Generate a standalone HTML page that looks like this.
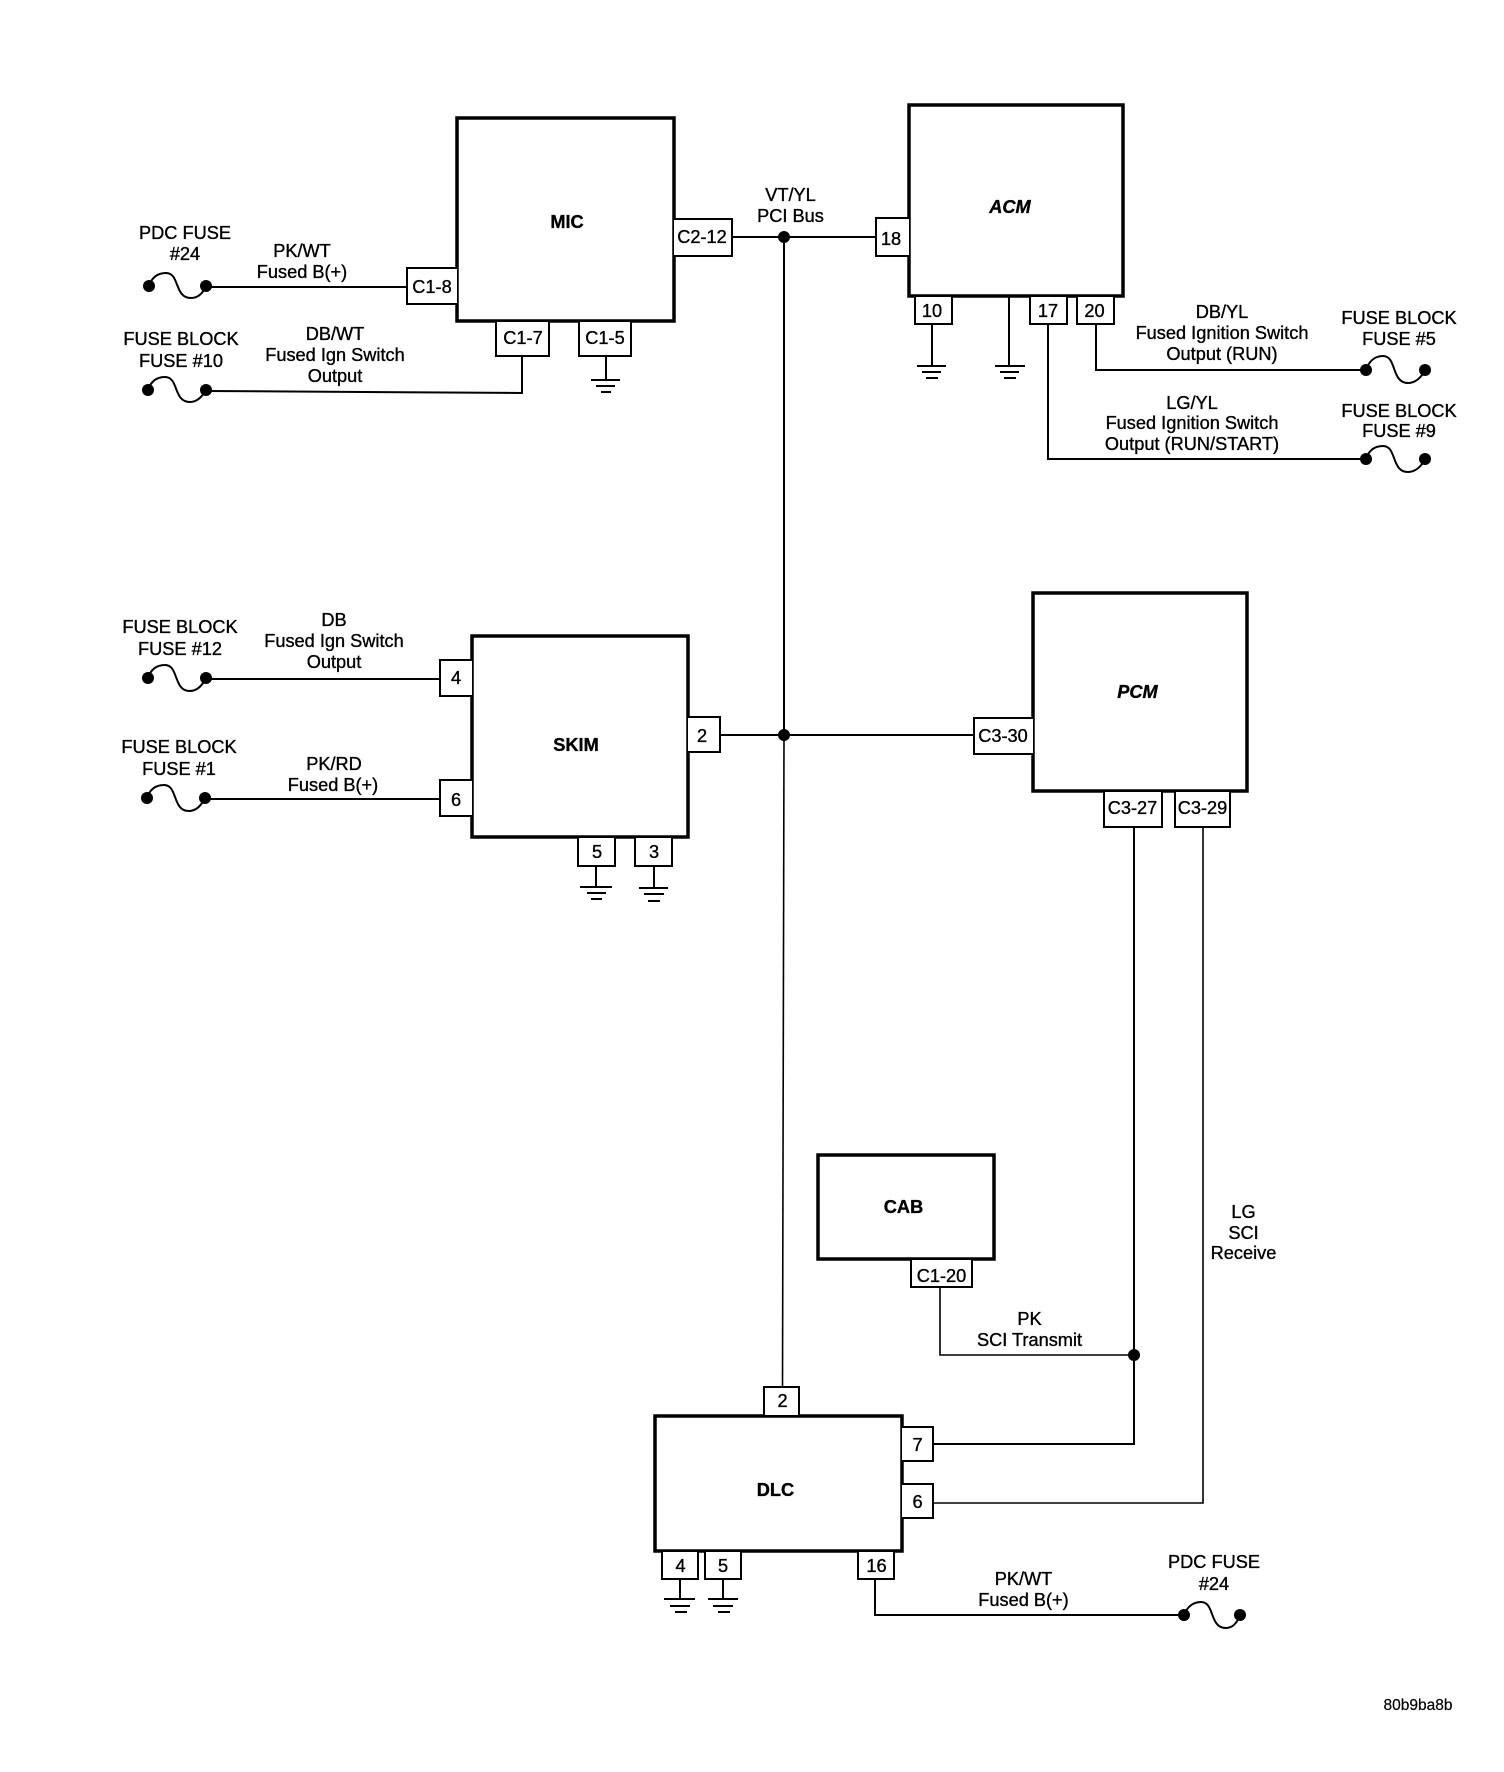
<!DOCTYPE html>
<html><head><meta charset="utf-8"><style>
html,body{margin:0;padding:0;background:#fff;width:1504px;height:1772px;overflow:hidden}
svg{display:block}
text{font-family:"Liberation Sans",sans-serif;font-size:18.2px;fill:#000;text-anchor:middle;stroke:#000;stroke-width:.35}
.b{font-weight:bold}
.i{font-weight:bold;font-style:italic}
.box{fill:#fff;stroke:#000;stroke-width:3.5}
.pin{fill:#fff;stroke:#000;stroke-width:2}
.w{fill:none;stroke:#000;stroke-width:2}
.t{fill:none;stroke:#000;stroke-width:1.6}
.f{fill:none;stroke:#000;stroke-width:2}
.d{fill:#000}
</style></head><body>
<svg width="1504" height="1772" viewBox="0 0 1504 1772" xmlns="http://www.w3.org/2000/svg">
<rect width="1504" height="1772" fill="#fff"/>

<!-- wires -->
<path class="w" d="M732 237H876"/>
<path class="w" d="M784 237V735"/>
<path class="t" d="M784 735L782.5 1387"/>
<path class="w" d="M720 735H974"/>
<path class="w" d="M206 287H407"/>
<path class="w" d="M206 391L522 393V356"/>
<path class="w" d="M206 679H440"/>
<path class="w" d="M205 799H440"/>
<path class="w" d="M1096 324V370H1366"/>
<path class="w" d="M1048 324V459H1366"/>
<path class="w" d="M1134 827V1444H933"/>
<path class="t" d="M1203 827V1503H933"/>
<path class="t" d="M940 1287V1355H1134"/>
<path class="w" d="M875 1579V1615H1184"/>

<!-- grounds -->
<path class="w" d="M606 356V380M591 380H620M596 386H615M601 392H611"/>
<path class="w" d="M932 324V366M917 366H946M922 372H941M926 378H938"/>
<path class="w" d="M1009 296V366M995 366H1025M1000 372H1019M1004 378H1016"/>
<path class="w" d="M596 866V887M580 887H612M587 893H606M591 899H602"/>
<path class="w" d="M654 866V888M639 888H668M644 894H664M648 901H660"/>
<path class="w" d="M680 1579V1599M664 1599H695M670 1606H690M675 1612H687"/>
<path class="w" d="M723 1579V1599M708 1599H738M713 1606H733M718 1612H730"/>

<!-- boxes -->
<rect class="box" x="457" y="118" width="217" height="203"/>
<rect class="box" x="909" y="105" width="214" height="191"/>
<rect class="box" x="472" y="636" width="216" height="201"/>
<rect class="box" x="1033" y="593" width="214" height="198"/>
<rect class="box" x="818" y="1155" width="176" height="104"/>
<rect class="box" x="655" y="1416" width="247" height="135"/>

<!-- pins -->
<path class="pin" d="M674 219H732V256H674"/>
<path class="pin" d="M457 268H407V304H457"/>
<path class="pin" d="M496 322V356H549V322"/>
<path class="pin" d="M579 322V356H631V322"/>
<path class="pin" d="M909 218H876V256H909"/>
<path class="pin" d="M915 297V324H952V297"/>
<path class="pin" d="M1030 297V324H1067V297"/>
<path class="pin" d="M1077 297V324H1114V297"/>
<path class="pin" d="M472 660H440V696H472"/>
<path class="pin" d="M472 780H440V816H472"/>
<path class="pin" d="M688 717H720V752H688"/>
<path class="pin" d="M578 838V866H615V838"/>
<path class="pin" d="M635 838V866H672V838"/>
<path class="pin" d="M1033 718H974V754H1033"/>
<path class="pin" d="M1104 792V827H1162V792"/>
<path class="pin" d="M1175 792V827H1230V792"/>
<path class="pin" d="M911 1260V1287H972V1260"/>
<path class="pin" d="M764 1415V1387H799V1415"/>
<path class="pin" d="M902 1427H933V1461H902"/>
<path class="pin" d="M902 1484H933V1518H902"/>
<path class="pin" d="M662 1552V1579H698V1552"/>
<path class="pin" d="M705 1552V1579H741V1552"/>
<path class="pin" d="M858 1552V1579H894V1552"/>

<!-- junction dots -->
<circle class="d" cx="784" cy="237" r="6"/>
<circle class="d" cx="784" cy="735" r="6"/>
<circle class="d" cx="1134" cy="1355" r="6"/>

<!-- fuses -->
<path class="f" d="M149 286C152 277 158 273 166 273C180 273 174 298 191 298C198 298 203 293 206 286"/><circle class="d" cx="149" cy="286" r="6"/><circle class="d" cx="206" cy="286" r="6"/>
<path class="f" d="M148 390C151 381 157 377 165 377C179 377 173 402 190 402C197 402 202 397 206 390"/><circle class="d" cx="148" cy="390" r="6"/><circle class="d" cx="206" cy="390" r="6"/>
<path class="f" d="M148 678C151 669 157 665 165 665C179 665 173 691 190 691C197 691 202 686 206 678"/><circle class="d" cx="148" cy="678" r="6"/><circle class="d" cx="206" cy="678" r="6"/>
<path class="f" d="M147 798C150 789 156 785 164 785C178 785 172 811 189 811C196 811 201 806 205 798"/><circle class="d" cx="147" cy="798" r="6"/><circle class="d" cx="205" cy="798" r="6"/>
<path class="f" d="M1366 370C1369 361 1375 356 1383 356C1397 356 1391 383 1408 383C1415 383 1421 378 1425 370"/><circle class="d" cx="1366" cy="370" r="6"/><circle class="d" cx="1425" cy="370" r="6"/>
<path class="f" d="M1366 459C1369 450 1375 446 1383 446C1397 446 1391 472 1408 472C1415 472 1421 467 1425 459"/><circle class="d" cx="1366" cy="459" r="6"/><circle class="d" cx="1425" cy="459" r="6"/>
<path class="f" d="M1184 1615C1187 1607 1193 1602 1201 1602C1215 1602 1209 1628 1226 1628C1233 1628 1237 1623 1240 1615"/><circle class="d" cx="1184" cy="1615" r="6"/><circle class="d" cx="1240" cy="1615" r="6"/>

<!-- module labels -->
<text class="b" x="567" y="228">MIC</text>
<text class="i" x="1010" y="213">ACM</text>
<text class="b" x="576" y="751">SKIM</text>
<text class="i" x="1137.5" y="698">PCM</text>
<text class="b" x="903.5" y="1213">CAB</text>
<text class="b" x="775.5" y="1496">DLC</text>

<!-- pin labels -->
<text x="702" y="243">C2-12</text>
<text x="432" y="293">C1-8</text>
<text x="523" y="344">C1-7</text>
<text x="605" y="344">C1-5</text>
<text x="891" y="245">18</text>
<text x="932" y="317">10</text>
<text x="1048" y="317">17</text>
<text x="1094.5" y="317">20</text>
<text x="456" y="684">4</text>
<text x="456" y="806">6</text>
<text x="702" y="742">2</text>
<text x="597" y="858">5</text>
<text x="654" y="858">3</text>
<text x="1003" y="742">C3-30</text>
<text x="1132.5" y="814">C3-27</text>
<text x="1202.5" y="814">C3-29</text>
<text x="941.5" y="1282">C1-20</text>
<text x="782.5" y="1407">2</text>
<text x="917.5" y="1451">7</text>
<text x="917.5" y="1508">6</text>
<text x="680.5" y="1572">4</text>
<text x="723" y="1572">5</text>
<text x="876.5" y="1572">16</text>

<!-- wire & fuse labels -->
<text x="185" y="239">PDC FUSE</text>
<text x="185" y="260">#24</text>
<text x="302" y="257">PK/WT</text>
<text x="302" y="278">Fused B(+)</text>
<text x="181" y="345">FUSE BLOCK</text>
<text x="181" y="367">FUSE #10</text>
<text x="335" y="340">DB/WT</text>
<text x="335" y="361">Fused Ign Switch</text>
<text x="335" y="382">Output</text>
<text x="790.5" y="201">VT/YL</text>
<text x="790.5" y="222">PCI Bus</text>
<text x="1399" y="324">FUSE BLOCK</text>
<text x="1399" y="345">FUSE #5</text>
<text x="1399" y="417">FUSE BLOCK</text>
<text x="1399" y="437">FUSE #9</text>
<text x="1222" y="318">DB/YL</text>
<text x="1222" y="339">Fused Ignition Switch</text>
<text x="1222" y="360">Output (RUN)</text>
<text x="1192" y="409">LG/YL</text>
<text x="1192" y="429">Fused Ignition Switch</text>
<text x="1192" y="450">Output (RUN/START)</text>
<text x="180" y="633">FUSE BLOCK</text>
<text x="180" y="655">FUSE #12</text>
<text x="179" y="753">FUSE BLOCK</text>
<text x="179" y="775">FUSE #1</text>
<text x="334" y="626">DB</text>
<text x="334" y="647">Fused Ign Switch</text>
<text x="334" y="668">Output</text>
<text x="334" y="770">PK/RD</text>
<text x="333" y="791">Fused B(+)</text>
<text x="1029.5" y="1325">PK</text>
<text x="1029.5" y="1346">SCI Transmit</text>
<text x="1243.5" y="1218">LG</text>
<text x="1243.5" y="1239">SCI</text>
<text x="1243.5" y="1259">Receive</text>
<text x="1023.5" y="1585">PK/WT</text>
<text x="1023.5" y="1606">Fused B(+)</text>
<text x="1214" y="1568">PDC FUSE</text>
<text x="1214" y="1590">#24</text>
<text x="1418" y="1710" style="font-size:15.5px;stroke-width:.2">80b9ba8b</text>
</svg>
</body></html>
